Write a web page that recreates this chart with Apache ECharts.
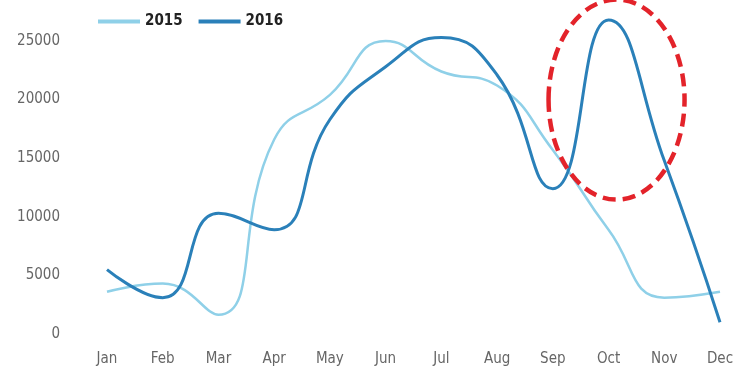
<!DOCTYPE html>
<html>
<head>
<meta charset="utf-8">
<script src="https://cdn.jsdelivr.net/npm/echarts@6/dist/echarts.min.js"></script>
<style>
  html, body { margin: 0; padding: 0; background: #fff; }
  #chart { width: 750px; height: 372px; }
</style>
</head>
<body>
<div id="chart"></div>
<script>
const months = ["Jan", "Feb", "Mar", "Apr", "May", "Jun", "Jul", "Aug", "Sep", "Oct", "Nov", "Dec"];
const sales2015 = [3600, 4300, 1650, 16600, 20400, 25000, 22400, 21200, 15700, 8900, 3100, 3600];
const sales2016 = [5500, 3100, 10300, 8900, 18300, 22800, 25300, 22100, 12400, 26800, 14800, 1000];
const yTicks = [0, 5000, 10000, 15000, 20000, 25000];

const font = "'Liberation Sans Narrow', 'DejaVu Sans Condensed', sans-serif";

let chart = echarts.init(document.getElementById("chart"));
let option = {
  animation: false,
  grid: { left: 107, right: 30, top: 41, bottom: 38 },
  legend: {
    left: 93,
    top: 9,
    itemWidth: 42,
    itemHeight: 4,
    itemGap: 16,
    textStyle: { fontFamily: font, fontSize: 15, fontWeight: "bold", color: "#222" },
    data: [
      { name: "2015", icon: "rect" },
      { name: "2016", icon: "rect" },
    ],
  },
  xAxis: {
    type: "category",
    data: months,
    boundaryGap: false,
    axisLine: { show: false },
    axisTick: { show: false },
    axisLabel: { color: "#666", fontFamily: font, fontSize: 15, margin: 18 },
  },
  yAxis: {
    type: "value",
    min: yTicks[0],
    max: yTicks[yTicks.length - 1],
    interval: 5000,
    splitLine: { show: false },
    axisLine: { show: false },
    axisTick: { show: false },
    axisLabel: {
      color: "#666",
      fontFamily: font,
      fontSize: 15,
      margin: 47,
      formatter: (v) => String(v),
    },
  },
  series: [
    {
      name: "2015",
      type: "line",
      data: sales2015,
      smooth: 0.5,
      clip: false,
      showSymbol: false,
      color: "#8fd0e8",
      lineStyle: { width: 2.5, color: "#8fd0e8" },
    },
    {
      name: "2016",
      type: "line",
      data: sales2016,
      smooth: 0.5,
      clip: false,
      showSymbol: false,
      color: "#2a80b9",
      lineStyle: { width: 3, color: "#2a80b9" },
    },
  ],
};
chart.setOption(option);

// dashed red ellipse around the October spike
let center = chart.convertToPixel({ gridIndex: 0 }, ["Oct", 20000]);
chart.setOption({
  graphic: [
    {
      type: "ellipse",
      shape: { cx: center[0] + 8, cy: center[1], rx: 68, ry: 100 },
      style: { fill: "none", stroke: "#e3232a", lineWidth: 4.5, lineDash: [13, 7] },
      z: 10,
    },
  ],
});
</script>
</body>
</html>
